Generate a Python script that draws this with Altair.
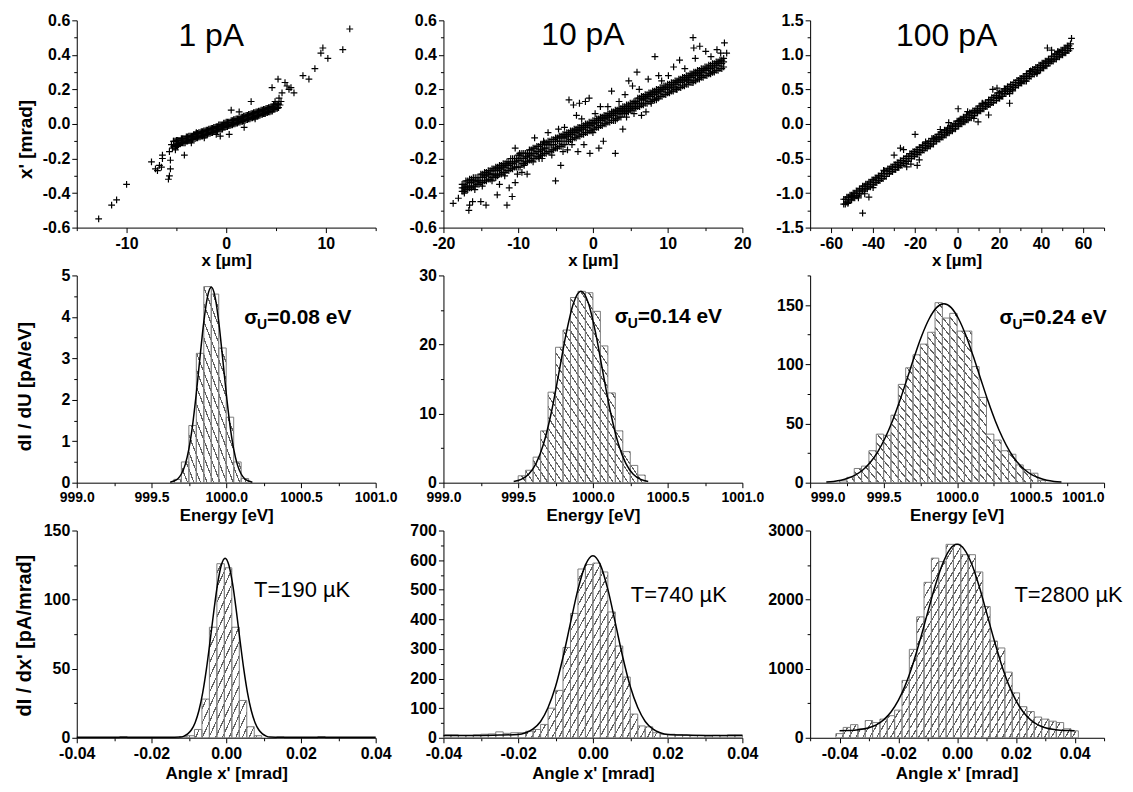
import json
import math
import pandas as pd
import altair as alt

FONT = "Liberation Sans"
PW = [300, 300, 295]
PH = 208
PLUS = "M-1,0L1,0M0,-1L0,1"

# ---------------- texts ----------------
current_titles = ["1 pA", "10 pA", "100 pA"]
sigma_texts = ["=0.08 eV", "=0.14 eV", "=0.24 eV"]
temp_texts = ["T=190 \u00b5K", "T=740 \u00b5K", "T=2800 \u00b5K"]
x_titles = ["x [\u00b5m]", "Energy [eV]", "Angle x' [mrad]"]
y_titles = ["x' [mrad]", "dI / dU [pA/eV]", "dI / dx' [pA/mrad]"]

# ---------------- row 1: phase space scatter ----------------
p1_band_x = [-5.25, -5.0, -4.75, -4.5, -4.25, -4.0, -3.75, -3.5, -3.25, -3.0, -2.75, -2.5, -2.25, -2.0,
             -1.75, -1.5, -1.25, -1.0, -0.75, -0.5, -0.25, 0.0, 0.25, 0.5, 0.75, 1.0, 1.25, 1.5, 1.75,
             2.0, 2.25, 2.5, 2.75, 3.0, 3.25, 3.5, 3.75, 4.0, 4.25, 4.5, 4.75, 5.0, 5.25]
p1_band_x_b = [-5.125, -4.875, -4.625, -4.375, -4.125, -3.875, -3.625, -3.375, -3.125, -2.875, -2.625,
               -2.375, -2.125, -1.875, -1.625, -1.375, -1.125, -0.875, -0.625, -0.375, -0.125, 0.125,
               0.375, 0.625, 0.875, 1.125, 1.375, 1.625, 1.875, 2.125, 2.375, 2.625, 2.875, 3.125, 3.375,
               3.625, 3.875, 4.125, 4.375, 4.625, 4.875, 5.125]
p1_band_y_up = [-0.10, -0.095, -0.095, -0.085, -0.085, -0.075, -0.07, -0.07, -0.06, -0.055, -0.05, -0.045,
                -0.04, -0.035, -0.03, -0.025, -0.02, -0.015, -0.005, -0.005, 0.005, 0.01, 0.01, 0.02, 0.025,
                0.03, 0.03, 0.04, 0.045, 0.05, 0.055, 0.06, 0.065, 0.07, 0.075, 0.08, 0.085, 0.09, 0.095,
                0.10, 0.11, 0.115, 0.115]
p1_band_y_lo = [-0.13, -0.125, -0.115, -0.11, -0.11, -0.10, -0.095, -0.09, -0.085, -0.08, -0.075, -0.07,
                -0.065, -0.06, -0.055, -0.05, -0.045, -0.04, -0.03, -0.03, -0.02, -0.015, -0.01, -0.005, 0.0,
                0.005, 0.01, 0.015, 0.02, 0.025, 0.03, 0.035, 0.04, 0.045, 0.05, 0.055, 0.06, 0.065, 0.07,
                0.075, 0.085, 0.09, 0.095]
p1_outliers = [(-12.8, -0.55), (-11.5, -0.47), (-11.0, -0.44), (-10.0, -0.35), (-7.5, -0.22), (-7.1, -0.26),
               (-6.9, -0.27), (-6.7, -0.24), (-6.5, -0.25), (-6.4, -0.20), (-6.4, -0.18), (-5.8, -0.32),
               (-5.7, -0.30), (-5.6, -0.26), (-5.6, -0.21), (-5.7, -0.16), (-5.4, -0.14), (-5.1, -0.15),
               (-4.9, -0.13), (-4.8, -0.12), (-4.2, -0.18), (-3.5, -0.11), (-1.0, -0.06), (-0.6, -0.07),
               (0.3, -0.06), (0.5, 0.08), (1.3, 0.07), (2.5, 0.13), (1.8, -0.02), (4.6, 0.21), (5.2, 0.26),
               (5.3, 0.15), (5.5, 0.13), (5.6, 0.18), (5.9, 0.24), (6.1, 0.22), (6.3, 0.20), (6.5, 0.21),
               (6.8, 0.18), (7.7, 0.28), (8.3, 0.26), (8.9, 0.32), (9.5, 0.41), (9.7, 0.44), (10.2, 0.38),
               (11.7, 0.43), (12.4, 0.55), (3.9, 0.06), (2.9, 0.03), (-2.2, -0.08), (-3.0, -0.05),
               (4.9, 0.13), (5.4, 0.11), (-5.3, -0.10), (-5.5, -0.12)]

p2_band_x = [-17.5, -17.0, -16.5, -16.0, -15.5, -15.0, -14.5, -14.0, -13.5, -13.0,
             -12.5, -12.0, -11.5, -11.0, -10.5, -10.0, -9.5, -9.0, -8.5, -8.0,
             -7.5, -7.0, -6.5, -6.0, -5.5, -5.0, -4.5, -4.0, -3.5, -3.0,
             -2.5, -2.0, -1.5, -1.0, -0.5, 0.0, 0.5, 1.0, 1.5, 2.0,
             2.5, 3.0, 3.5, 4.0, 4.5, 5.0, 5.5, 6.0, 6.5, 7.0,
             7.5, 8.0, 8.5, 9.0, 9.5, 10.0, 10.5, 11.0, 11.5, 12.0,
             12.5, 13.0, 13.5, 14.0, 14.5, 15.0, 15.5, 16.0, 16.5, 17.0,
             17.5]
p2_band_x_b = [-17.25, -16.75, -16.25, -15.75, -15.25, -14.75, -14.25, -13.75, -13.25, -12.75,
               -12.25, -11.75, -11.25, -10.75, -10.25, -9.75, -9.25, -8.75, -8.25, -7.75,
               -7.25, -6.75, -6.25, -5.75, -5.25, -4.75, -4.25, -3.75, -3.25, -2.75,
               -2.25, -1.75, -1.25, -0.75, -0.25, 0.25, 0.75, 1.25, 1.75, 2.25,
               2.75, 3.25, 3.75, 4.25, 4.75, 5.25, 5.75, 6.25, 6.75, 7.25,
               7.75, 8.25, 8.75, 9.25, 9.75, 10.25, 10.75, 11.25, 11.75, 12.25,
               12.75, 13.25, 13.75, 14.25, 14.75, 15.25, 15.75, 16.25, 16.75, 17.25]
p2_band_y_up = [-0.35, -0.33, -0.32, -0.31, -0.31, -0.29, -0.28, -0.27, -0.26, -0.25,
                -0.24, -0.23, -0.22, -0.20, -0.20, -0.18, -0.17, -0.17, -0.15, -0.14,
                -0.13, -0.12, -0.11, -0.10, -0.09, -0.08, -0.07, -0.06, -0.05, -0.04,
                -0.03, -0.02, -0.01, 0.00, 0.01, 0.02, 0.03, 0.04, 0.05, 0.06,
                0.07, 0.08, 0.09, 0.10, 0.11, 0.12, 0.13, 0.15, 0.16, 0.17,
                0.18, 0.19, 0.20, 0.21, 0.22, 0.23, 0.24, 0.25, 0.26, 0.27,
                0.28, 0.29, 0.30, 0.31, 0.32, 0.33, 0.34, 0.35, 0.36, 0.37,
                0.38]
p2_band_y_mid = [-0.37, -0.36, -0.34, -0.33, -0.33, -0.31, -0.30, -0.29, -0.29, -0.27,
                 -0.26, -0.25, -0.24, -0.23, -0.22, -0.21, -0.20, -0.19, -0.18, -0.17,
                 -0.16, -0.15, -0.14, -0.12, -0.12, -0.10, -0.10, -0.08, -0.07, -0.06,
                 -0.05, -0.04, -0.03, -0.02, -0.01, 0.00, 0.01, 0.02, 0.03, 0.04,
                 0.05, 0.06, 0.07, 0.08, 0.09, 0.10, 0.12, 0.12, 0.14, 0.15,
                 0.16, 0.17, 0.18, 0.19, 0.20, 0.21, 0.22, 0.23, 0.24, 0.25,
                 0.26, 0.27, 0.28, 0.29, 0.30, 0.31, 0.32, 0.33, 0.34, 0.35,
                 0.36]
p2_band_y_lo = [-0.39, -0.38, -0.37, -0.36, -0.35, -0.34, -0.33, -0.32, -0.31, -0.30,
                -0.29, -0.28, -0.27, -0.26, -0.25, -0.25, -0.23, -0.22, -0.21, -0.20,
                -0.19, -0.18, -0.17, -0.16, -0.15, -0.14, -0.13, -0.12, -0.10, -0.09,
                -0.08, -0.07, -0.06, -0.05, -0.04, -0.03, -0.02, -0.01, 0.00, 0.01,
                0.02, 0.03, 0.04, 0.06, 0.07, 0.08, 0.09, 0.10, 0.11, 0.12,
                0.13, 0.14, 0.15, 0.16, 0.17, 0.18, 0.19, 0.20, 0.21, 0.22,
                0.23, 0.24, 0.25, 0.26, 0.27, 0.28, 0.29, 0.30, 0.31, 0.32,
                0.33]
p2_outliers = [(-18.7, -0.46), (-18.0, -0.43), (-17.2, -0.40), (-16.6, -0.50), (-16.5, -0.47), (-16.1, -0.45),
               (-15.0, -0.45), (-14.3, -0.47), (-12.8, -0.41), (-11.5, -0.47), (-10.8, -0.42), (-12.5, -0.35),
               (-11.2, -0.37), (-10.4, -0.34), (-10.1, -0.29), (-9.5, -0.28), (-8.8, -0.29), (-9.2, -0.24),
               (-10.4, -0.14), (-9.8, -0.17), (-7.8, -0.08), (-6.6, -0.10), (-5.0, -0.33), (-4.3, -0.24),
               (-4.0, -0.16), (-3.4, -0.15), (-3.2, 0.14), (-2.6, 0.11), (-1.8, 0.12), (-1.0, 0.13),
               (-0.5, 0.15), (-2.2, 0.05), (-1.2, -0.12), (-0.4, -0.17), (0.8, -0.14), (1.4, -0.10),
               (3.0, -0.17), (2.5, 0.19), (3.5, 0.13), (4.3, 0.17), (4.8, 0.25), (5.3, 0.22), (5.9, 0.30),
               (5.7, 0.10), (7.4, 0.26), (8.3, 0.39), (8.8, 0.28), (4.0, -0.03), (6.5, 0.05), (7.1, 0.07),
               (10.1, 0.28), (10.8, 0.33), (11.6, 0.37), (12.3, 0.32), (13.4, 0.50), (13.5, 0.44),
               (13.4, 0.24), (13.7, 0.38), (14.3, 0.45), (15.1, 0.42), (16.6, 0.43), (17.1, 0.41),
               (17.6, 0.47), (17.9, 0.41), (15.8, 0.39), (10.5, 0.21), (11.2, 0.20), (-6.0, -0.05),
               (-5.5, -0.18), (-7.2, -0.20), (-8.0, -0.22), (-6.8, -0.20), (-2.8, -0.12), (-2.0, -0.16),
               (0.3, 0.06), (1.0, 0.10), (2.0, 0.10), (3.0, 0.02), (4.5, 0.04), (5.5, 0.06), (6.2, 0.20),
               (7.8, 0.12), (8.5, 0.14), (9.2, 0.25), (-13.5, -0.33), (-14.8, -0.36), (-15.8, -0.38),
               (-13.0, -0.31), (-11.8, -0.30), (-3.8, -0.02), (-4.6, -0.03), (-1.5, 0.03), (0.0, -0.05),
               (12.8, 0.25), (14.5, 0.28), (16.0, 0.30)]

p3_band_x = [-54.0, -52.5, -51.0, -49.5, -48.0, -46.5, -45.0, -43.5, -42.0, -40.5,
             -39.0, -37.5, -36.0, -34.5, -33.0, -31.5, -30.0, -28.5, -27.0, -25.5,
             -24.0, -22.5, -21.0, -19.5, -18.0, -16.5, -15.0, -13.5, -12.0, -10.5,
             -9.0, -7.5, -6.0, -4.5, -3.0, -1.5, 0.0, 1.5, 3.0, 4.5,
             6.0, 7.5, 9.0, 10.5, 12.0, 13.5, 15.0, 16.5, 18.0, 19.5,
             21.0, 22.5, 24.0, 25.5, 27.0, 28.5, 30.0, 31.5, 33.0, 34.5,
             36.0, 37.5, 39.0, 40.5, 42.0, 43.5, 45.0, 46.5, 48.0, 49.5,
             51.0, 52.5, 54.0]
p3_band_x_b = [-53.25, -51.75, -50.25, -48.75, -47.25, -45.75, -44.25, -42.75, -41.25, -39.75,
               -38.25, -36.75, -35.25, -33.75, -32.25, -30.75, -29.25, -27.75, -26.25, -24.75,
               -23.25, -21.75, -20.25, -18.75, -17.25, -15.75, -14.25, -12.75, -11.25, -9.75,
               -8.25, -6.75, -5.25, -3.75, -2.25, -0.75, 0.75, 2.25, 3.75, 5.25,
               6.75, 8.25, 9.75, 11.25, 12.75, 14.25, 15.75, 17.25, 18.75, 20.25,
               21.75, 23.25, 24.75, 26.25, 27.75, 29.25, 30.75, 32.25, 33.75, 35.25,
               36.75, 38.25, 39.75, 41.25, 42.75, 44.25, 45.75, 47.25, 48.75, 50.25,
               51.75, 53.25]
p3_band_y_up = [-1.09, -1.06, -1.03, -1.00, -0.97, -0.94, -0.90, -0.87, -0.84, -0.81,
                -0.78, -0.75, -0.72, -0.68, -0.65, -0.62, -0.59, -0.56, -0.53, -0.50,
                -0.47, -0.43, -0.40, -0.37, -0.34, -0.31, -0.28, -0.25, -0.21, -0.19,
                -0.15, -0.12, -0.09, -0.06, -0.03, 0.00, 0.04,
                0.07, 0.10, 0.13, 0.16, 0.19, 0.22, 0.26, 0.29, 0.31, 0.35,
                0.38, 0.41, 0.45, 0.47, 0.51, 0.54, 0.57, 0.60, 0.63, 0.66,
                0.69, 0.73, 0.76, 0.79, 0.82, 0.85, 0.88, 0.91, 0.94, 0.98,
                1.01, 1.04, 1.07, 1.10, 1.13, 1.16]
p3_band_y_lo = [-1.16, -1.13, -1.10, -1.07, -1.04, -1.01, -0.97, -0.94, -0.91, -0.88,
                -0.85, -0.82, -0.79, -0.76, -0.72, -0.69, -0.66, -0.63, -0.60, -0.57,
                -0.54, -0.50, -0.47, -0.44, -0.41, -0.38, -0.35, -0.32, -0.29, -0.25,
                -0.22, -0.19, -0.16, -0.13, -0.10, -0.07, -0.03,
                0.00, 0.03, 0.06, 0.09, 0.12, 0.16, 0.19, 0.22, 0.25, 0.28,
                0.31, 0.34, 0.37, 0.40, 0.44, 0.47, 0.50, 0.53, 0.56, 0.59,
                0.62, 0.66, 0.69, 0.72, 0.75, 0.78, 0.81, 0.84, 0.88, 0.91,
                0.94, 0.97, 1.00, 1.03, 1.06, 1.09]
p3_outliers = [(-45, -1.29), (-42, -1.06), (-44, -1.01), (-47, -1.07), (-40, -0.92), (-30, -0.45),
               (-27, -0.35), (-25.5, -0.37), (-22, -0.58), (-19, -0.60), (-20, -0.15), (-11, -0.22),
               (-24, -0.62), (-18, -0.52), (0.5, 0.22), (1, 0.05), (-4, 0.02), (-5, -0.12), (10, 0.03),
               (15, 0.13), (17, 0.50), (19, 0.52), (23, 0.49), (25, 0.30), (25, 0.44), (26.5, 0.48),
               (35, 0.77), (38, 0.73), (43, 1.10), (45, 1.07), (54.5, 1.24), (30, 0.60), (41, 0.82),
               (-35, -0.67), (-50, -1.05), (-52, -1.15), (8, 0.08), (12, 0.30), (5, 0.18), (-8, -0.08),
               (20, 0.38), (33, 0.62), (48, 1.05), (-15, -0.26), (-28, -0.62)]

# ---------------- row 2: energy histograms ----------------
e_bin_width = 0.05
e1_start = [999.65, 999.70, 999.75, 999.80, 999.85, 999.90, 999.95, 1000.00, 1000.05, 1000.10]
e1_height = [0.08, 0.5, 1.38, 3.12, 4.73, 4.55, 3.25, 1.58, 0.5, 0.1]
e1_fit_x = [999.625, 999.65, 999.675, 999.70, 999.725, 999.75, 999.775, 999.80, 999.825, 999.85, 999.875,
            999.90, 999.925, 999.95, 999.975, 1000.0, 1000.025, 1000.05, 1000.075, 1000.10, 1000.125,
            1000.15, 1000.175]
e1_fit_y = [0.013, 0.04, 0.09, 0.21, 0.43, 0.81, 1.39, 2.16, 3.04, 3.88, 4.49, 4.72, 4.49, 3.88, 3.04,
            2.16, 1.39, 0.81, 0.43, 0.21, 0.09, 0.04, 0.013]

e2_start = [999.50, 999.55, 999.60, 999.65, 999.70, 999.75, 999.80, 999.85, 999.90, 999.95, 1000.00,
            1000.05, 1000.10, 1000.15, 1000.20, 1000.25, 1000.30]
e2_height = [1.0, 1.8, 3.7, 7.5, 13.1, 19.6, 22.1, 26.8, 27.7, 27.5, 24.8, 19.8, 13.0, 7.5, 4.5, 2.5, 1.1]
e2_fit_x = [999.47, 999.52, 999.57, 999.62, 999.67, 999.72, 999.77, 999.82, 999.87, 999.92, 999.97,
            1000.02, 1000.07, 1000.12, 1000.17, 1000.22, 1000.27, 1000.32, 1000.37]
e2_fit_y = [0.16, 0.47, 1.22, 2.79, 5.63, 9.98, 15.6, 21.47, 25.98, 27.7, 25.98, 21.47, 15.6, 9.98, 5.63,
            2.79, 1.22, 0.47, 0.16]

e3_start = [999.20, 999.25, 999.30, 999.35, 999.40, 999.45, 999.50, 999.55, 999.60, 999.65, 999.70,
            999.75, 999.80, 999.85, 999.90, 999.95, 1000.00, 1000.05, 1000.10, 1000.15, 1000.20,
            1000.25, 1000.30, 1000.35, 1000.40, 1000.45, 1000.50, 1000.55]
e3_height = [1.5, 4.5, 12, 14, 27, 41, 40, 57, 83, 97, 108, 117, 127, 152, 139, 143, 128, 128, 98, 72,
             41, 36, 27, 24, 15, 11, 8, 2]
e3_fit_x = [999.11, 999.16, 999.21, 999.26, 999.31, 999.36, 999.41, 999.46, 999.51, 999.56, 999.61,
            999.66, 999.71, 999.76, 999.81, 999.86, 999.91, 999.96, 1000.01, 1000.06, 1000.11, 1000.16,
            1000.21, 1000.26, 1000.31, 1000.36, 1000.41, 1000.46, 1000.51, 1000.56, 1000.61, 1000.66,
            1000.71]
e3_fit_y = [0.6, 1.1, 2.1, 3.9, 6.6, 10.9, 17.2, 26.0, 37.7, 52.1, 69.1, 87.8, 106.7, 124.2, 138.4,
            147.8, 151, 147.8, 138.4, 124.2, 106.7, 87.8, 69.1, 52.1, 37.7, 26.0, 17.2, 10.9, 6.6, 3.9,
            2.1, 1.1, 0.6]

# ---------------- row 3: angle histograms ----------------
a12_bin_width = 0.002
a1_start = [-0.0285, -0.0125, -0.0105, -0.0085, -0.0065, -0.0045, -0.0025, -0.0005, 0.0015, 0.0035,
            0.0055, 0.0075, 0.0135, 0.0245]
a1_height = [0.8, 0.8, 1.5, 6, 28, 80, 126, 123, 80, 27, 8, 1.5, 0.6, 0.8]
a1_fit_x = [-0.040, -0.030, -0.020, -0.0153, -0.0123, -0.0113, -0.0103, -0.0093, -0.0083, -0.0073,
            -0.0063, -0.0053, -0.0043, -0.0033, -0.0023, -0.0013, -0.0003, 0.0007, 0.0017, 0.0027,
            0.0037, 0.0047, 0.0057, 0.0067, 0.0077, 0.0087, 0.0097, 0.0107, 0.0117, 0.0147, 0.020,
            0.030, 0.040]
a1_fit_y = [0.3, 0.3, 0.3, 0.3, 0.5, 1.2, 2.8, 5.8, 11.1, 19.7, 32.5, 49.7, 70.3, 92, 111.5, 125, 130,
            125, 111.5, 92, 70.3, 49.7, 32.5, 19.7, 11.1, 5.8, 2.8, 1.2, 0.5, 0.3, 0.3, 0.3, 0.3]

a2_start = [-0.040, -0.038, -0.036, -0.034, -0.032, -0.030, -0.028, -0.026, -0.024, -0.022,
            -0.020, -0.018, -0.016, -0.014, -0.012, -0.010, -0.008, -0.006, -0.004, -0.002,
            0.000, 0.002, 0.004, 0.006, 0.008, 0.010, 0.012, 0.014, 0.016, 0.018,
            0.020, 0.022, 0.024, 0.026, 0.028, 0.030, 0.032, 0.034, 0.036, 0.038]
a2_height = [10, 10, 8, 8, 10, 12, 13, 20, 15, 17, 17, 22, 28, 45, 100, 160, 305, 420, 570, 585,
             590, 560, 425, 310, 205, 80, 40, 37, 17, 12, 12, 10, 8, 7, 8, 6, 8, 7, 10, 10]
a2_fit_x = [-0.040, -0.035, -0.030, -0.025, -0.020, -0.018, -0.016, -0.014, -0.012, -0.010, -0.008,
            -0.006, -0.004, -0.002, 0.0, 0.002, 0.004, 0.006, 0.008, 0.010, 0.012, 0.014, 0.016, 0.018,
            0.020, 0.025, 0.030, 0.035, 0.040]
a2_fit_y = [8, 8, 8, 9, 11, 17, 30, 55, 102, 173, 272, 388, 501, 584, 615, 584, 501, 388, 272, 173, 102,
            55, 30, 17, 11, 9, 8, 8, 8]

a3_bin_width = 0.0025
a3_center = [-0.04, -0.0375, -0.035, -0.0325, -0.03, -0.0275, -0.025, -0.0225, -0.02, -0.0175, -0.015,
             -0.0125, -0.01, -0.0075, -0.005, -0.0025, 0.0, 0.0025, 0.005, 0.0075, 0.01, 0.0125, 0.015,
             0.0175, 0.02, 0.0225, 0.025, 0.0275, 0.03, 0.0325, 0.035, 0.0375, 0.04]
a3_height = [60, 150, 190, 130, 250, 220, 270, 320, 400, 830, 1280, 1750, 2250, 2600, 2550, 2800, 2800,
             2650, 2650, 2400, 1900, 1400, 1300, 950, 650, 450, 380, 300, 270, 240, 220, 130, 100]
a3_fit_x = a3_center
a3_fit_y = [102, 104, 110, 122, 146, 187, 259, 372, 540, 773, 1073, 1429, 1815, 2192, 2511, 2724, 2800,
            2724, 2511, 2192, 1815, 1429, 1073, 773, 540, 372, 259, 187, 146, 122, 110, 104, 102]

# ---------------- axis ticks ----------------
T_Y1 = ([-0.6, -0.4, -0.2, 0.0, 0.2, 0.4, 0.6], [-0.5, -0.3, -0.1, 0.1, 0.3, 0.5])
T_X1 = ([-10, 0, 10], [-15, -5, 5, 15])
T_X2 = ([-20, -10, 0, 10, 20], [-15, -5, 5, 15])
T_Y3 = ([-1.5, -1.0, -0.5, 0.0, 0.5, 1.0, 1.5], [-1.25, -0.75, -0.25, 0.25, 0.75, 1.25])
T_X3 = ([-60, -40, -20, 0, 20, 40, 60], [-70, -50, -30, -10, 10, 30, 50, 70])
T_XE = ([999.0, 999.5, 1000.0, 1000.5, 1001.0], [999.25, 999.75, 1000.25, 1000.75])
T_Y4 = ([0, 1, 2, 3, 4, 5], [0.5, 1.5, 2.5, 3.5, 4.5])
T_Y5 = ([0, 10, 20, 30], [5, 15, 25])
T_Y6 = ([0, 50, 100, 150], [25, 75, 125, 175])
T_XA = ([-0.04, -0.02, 0.0, 0.02, 0.04], [-0.03, -0.01, 0.01, 0.03])
T_XA9 = ([-0.04, -0.02, 0.0, 0.02, 0.04], [-0.05, -0.03, -0.01, 0.01, 0.03, 0.05])
T_Y7 = ([0, 50, 100, 150], [25, 75, 125])
T_Y8 = ([0, 100, 200, 300, 400, 500, 600, 700], [50, 150, 250, 350, 450, 550, 650])
T_Y9 = ([0, 1000, 2000, 3000], [500, 1500, 2500])


def make_axis(ticks, fmt, title=None, tx=None, ty=None, size=17, flush=False, pad=2, lsize=16):
    major, minor = ticks
    test = "indexof(%s, datum.value) >= 0" % json.dumps(major)
    kw = dict(values=sorted(major + minor),
              labelExpr="%s ? replace(format(datum.value, '%s'), '\u2212', '-') : ''" % (test, fmt),
              tickSize={"condition": {"test": test, "value": 5}, "value": 3},
              labelFlush=flush, labelOverlap=False, grid=False, labelPadding=pad, labelFontSize=lsize)
    if title:
        kw.update(title=title, titleFontSize=size, titleX=tx, titleY=ty)
    else:
        kw["title"] = None
    return alt.Axis(**kw)


def xaxis(ticks, fmt, title, tx, ty, flush=False, lsize=16):
    return make_axis(ticks, fmt, title, tx, ty, 17, flush, pad=3, lsize=lsize)


def hatch(w_px, h_px, slope, forward, spacing=6.0, line=1.15, color="#606060"):
    a = slope * w_px / h_px
    b = 1.0
    k = (a + b) / (a * a + b * b)
    span = (a + b) / math.sqrt((a / w_px) ** 2 + (b / h_px) ** 2)
    n = max(4, int(round(span / spacing)))
    f = min(0.6, line / (span / n))
    stops = []
    for i in range(n):
        o = i / n
        o2 = o + f / n
        stops += [{"offset": round(o, 6), "color": "white"}, {"offset": round(o, 6), "color": color},
                  {"offset": round(o2, 6), "color": color}, {"offset": round(o2, 6), "color": "white"}]
    stops.append({"offset": 1, "color": "white"})
    if forward:
        return {"gradient": "linear", "x1": 0, "y1": 0, "x2": k * a, "y2": k * b, "stops": stops}
    return {"gradient": "linear", "x1": 0, "y1": 1, "x2": k * a, "y2": 1 - k * b, "stops": stops}


def text_layer(s, x, y, size, weight="normal", align="left"):
    return alt.Chart(pd.DataFrame({"t": [s]})).mark_text(
        font=FONT, fontSize=size, fontWeight=weight, align=align, baseline="alphabetic", color="black"
    ).encode(text="t:N", x=alt.value(x), y=alt.value(y))


def scatter_panel(col, band_sets, outliers, xdom, ydom, xax, yax, title, tx, ty):
    rows = []
    for bx, band_rows in band_sets:
        for ys in band_rows:
            rows += [{"x": x, "y": y} for x, y in zip(bx, ys)]
    rows += [{"x": x, "y": y} for x, y in outliers]
    df = pd.DataFrame(rows)
    pts = alt.Chart(df).mark_point(shape=PLUS, size=46, filled=False, color="black", strokeWidth=1.2,
                                   opacity=1, clip=True).encode(
        x=alt.X("x:Q", scale=alt.Scale(domain=xdom, nice=False, zero=False), axis=xax),
        y=alt.Y("y:Q", scale=alt.Scale(domain=ydom, nice=False, zero=False), axis=yax))
    return alt.layer(pts, text_layer(title, tx, ty, 32, align="center")).properties(width=PW[col], height=PH)


def hist_panel(col, starts, heights, binw, hr, fx, fy, xdom, ydom, xax, yax, slope, forward, texts):
    w = PW[col]
    bars = pd.DataFrame({"x0": starts, "x1": [s + binw for s in starts], "h": heights,
                         "z": [0] * len(starts)})
    hs = starts[hr[0]:hr[1]]
    hh = heights[hr[0]:hr[1]]
    area_df = pd.DataFrame({"x0": hs + [hs[-1] + binw], "h": hh + [hh[-1]]})
    wpx = (hs[-1] + binw - hs[0]) / (xdom[1] - xdom[0]) * w
    hpx = max(hh) / (ydom[1] - ydom[0]) * PH
    xs = alt.Scale(domain=xdom, nice=False, zero=False)
    ys = alt.Scale(domain=ydom, nice=False, zero=False)
    area = alt.Chart(area_df).mark_area(interpolate="step-after", fill=hatch(wpx, hpx, slope, forward),
                                        opacity=1).encode(
        x=alt.X("x0:Q", scale=xs, axis=xax), y=alt.Y("h:Q", scale=ys, axis=yax))
    rect = alt.Chart(bars).mark_rect(filled=False, color="#7d7d7d", strokeWidth=1, opacity=1).encode(
        x=alt.X("x0:Q", scale=xs, axis=xax), x2="x1:Q", y=alt.Y("h:Q", scale=ys, axis=yax), y2="z:Q")
    fit = alt.Chart(pd.DataFrame({"x0": fx, "h": fy})).mark_line(
        color="black", strokeWidth=1.5, interpolate="monotone").encode(
        x=alt.X("x0:Q", scale=xs, axis=xax), y=alt.Y("h:Q", scale=ys, axis=yax))
    return alt.layer(area, rect, fit, *texts).properties(width=w, height=PH)


def sigma_texts_layers(i, x, y):
    return [text_layer("\u03c3", x, y, 20, "bold"),
            text_layer("U", x + 13, y + 5, 14, "bold"),
            text_layer(sigma_texts[i], x + 23, y, 21, "bold")]


# ---------------- panels ----------------
p1 = scatter_panel(0, [(p1_band_x, [p1_band_y_up, p1_band_y_lo]), (p1_band_x_b, [p1_band_y_up, p1_band_y_lo])],
                   p1_outliers, [-15, 15], [-0.6, 0.6],
                   xaxis(T_X1, "d", x_titles[0], 150, 25),
                   make_axis(T_Y1, ".1f", y_titles[0], -41, 119, 19), current_titles[0], 135, 26)
p2 = scatter_panel(1, [(p2_band_x, [p2_band_y_up, p2_band_y_mid, p2_band_y_lo]),
                       (p2_band_x_b, [p2_band_y_up, p2_band_y_mid, p2_band_y_lo])],
                   p2_outliers, [-20, 20], [-0.6, 0.6], xaxis(T_X2, "d", x_titles[0], 150, 25),
                   make_axis(T_Y1, ".1f"), current_titles[1], 140, 25)
p3 = scatter_panel(2, [(p3_band_x, [p3_band_y_up, p3_band_y_lo]), (p3_band_x_b, [p3_band_y_up, p3_band_y_lo])],
                   p3_outliers, [-70, 70], [-1.5, 1.5],
                   xaxis(T_X3, "d", x_titles[0], 147, 25),
                   make_axis(T_Y3, ".1f"), current_titles[2], 137, 26)

EDOM = [999.0, 1001.0]
p4 = hist_panel(0, e1_start, e1_height, e_bin_width, (0, len(e1_start)), e1_fit_x, e1_fit_y, EDOM, [0, 5],
                xaxis(T_XE, ".1f", x_titles[1], 150, 25, lsize=14),
                make_axis(T_Y4, "d", y_titles[1], -42, 111, 19), 2.6, False,
                sigma_texts_layers(0, 168, 49))
p5 = hist_panel(1, e2_start, e2_height, e_bin_width, (0, len(e2_start)), e2_fit_x, e2_fit_y, EDOM, [0, 30],
                xaxis(T_XE, ".1f", x_titles[1], 150, 25, lsize=14),
                make_axis(T_Y5, "d"), 1.5, False, sigma_texts_layers(1, 172, 48))
p6 = hist_panel(2, e3_start, e3_height, e_bin_width, (0, len(e3_start)), e3_fit_x, e3_fit_y, EDOM, [0, 175],
                xaxis(T_XE, ".1f", x_titles[1], 147, 25, flush=True, lsize=14),
                make_axis(T_Y6, "d"), 1.2, False, sigma_texts_layers(2, 190, 49))

p7 = hist_panel(0, a1_start, a1_height, a12_bin_width, (2, 12), a1_fit_x, a1_fit_y, [-0.04, 0.04], [0, 150],
                xaxis(T_XA, ".2f", x_titles[2], 150, 28),
                make_axis(T_Y7, "d", y_titles[2], -42, 105, 20), 2.2, True,
                [text_layer(temp_texts[0], 178, 67, 22)])
p8 = hist_panel(1, a2_start, a2_height, a12_bin_width, (11, 29), a2_fit_x, a2_fit_y, [-0.04, 0.04], [0, 700],
                xaxis(T_XA, ".2f", x_titles[2], 150, 28),
                make_axis(T_Y8, "d"), 1.8, True, [text_layer(temp_texts[1], 188, 72, 22)])
a3_start = [c - a3_bin_width / 2 for c in a3_center]
p9 = hist_panel(2, a3_start, a3_height, a3_bin_width, (0, len(a3_start)), a3_fit_x, a3_fit_y, [-0.05, 0.05],
                [0, 3000], xaxis(T_XA9, ".2f", x_titles[2], 147, 28),
                make_axis(T_Y9, "d"), 1.7, True, [text_layer(temp_texts[2], 205, 72, 22)])

chart = alt.concat(p1, p2, p3, p4, p5, p6, p7, p8, p9, columns=3,
                   spacing={"row": 48, "column": 68}, bounds="flush").properties(
    padding={"left": 6, "top": 3, "right": 2, "bottom": 0}
).configure_view(stroke=None).configure_axis(
    labelFont=FONT, labelFontWeight="bold", labelColor="black",
    titleFont=FONT, titleFontWeight="bold", titleColor="black",
    domainColor="black", tickColor="black", domainWidth=1, tickWidth=1, grid=False
)

chart.save("out.html", embed_options={"renderer": "svg", "actions": False})
